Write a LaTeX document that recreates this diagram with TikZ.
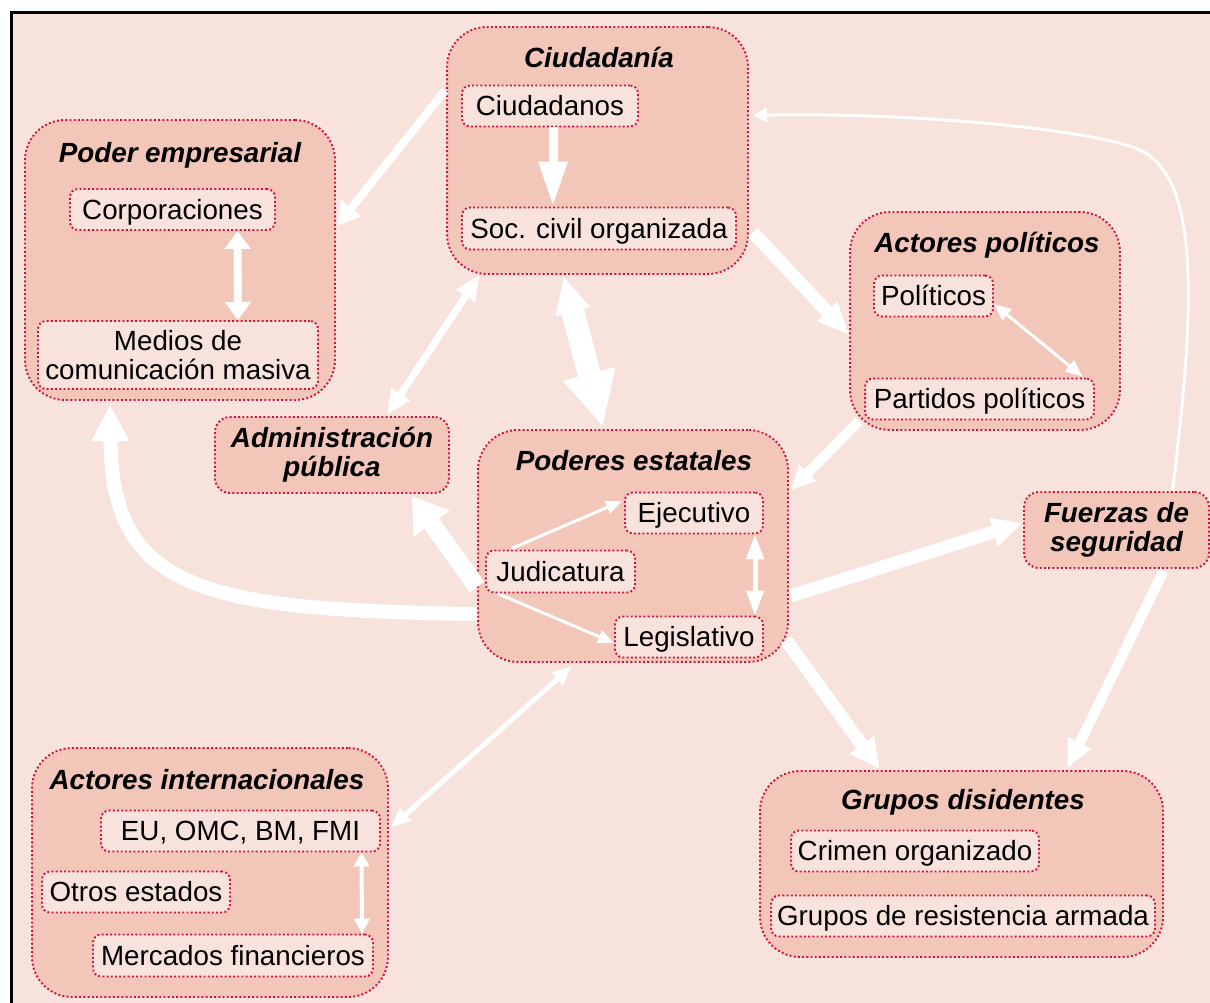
\documentclass[tikz,border=0pt]{standalone}
\usepackage{fontspec}
\setmainfont{Liberation Sans}
\usetikzlibrary{arrows.meta,calc}
\definecolor{bg}{RGB}{247,227,219}
\definecolor{boxc}{RGB}{242,199,186}
\definecolor{dotc}{RGB}{214,16,60}
\newcommand\bodyfnt{\fontsize{15.8}{16.5}\selectfont}
\newcommand\titlefnt{\fontsize{15.8}{16.5}\selectfont\bfseries\itshape}
\tikzset{
  dotb/.style={draw=dotc, line width=1.1pt, dash pattern=on 1.1pt off 1.3pt},
  outerbox/.style={dotb, fill=boxc, rounded corners=0.8cm, inner sep=0pt},
  midbox/.style={dotb, fill=boxc, rounded corners=0.3cm, inner sep=0pt, align=center, font=\titlefnt},
  inbox/.style={dotb, fill=bg, rounded corners=0.16cm, inner sep=0pt, font=\bodyfnt, text height=11.3pt, text depth=0pt},
  inboxml/.style={dotb, fill=bg, rounded corners=0.16cm, inner sep=0pt, font=\bodyfnt, align=center},
  ttl/.style={font=\titlefnt, inner sep=0pt, text height=11.3pt, text depth=0pt},
  warr/.style={draw=white, line width=#1},
}
\begin{document}
\begin{tikzpicture}[x=0.02cm, y=-0.02cm]
\useasboundingbox (0,0) rectangle (1210,1003);
\clip (0,0) rectangle (1210,1003);
\fill[white] (0,0) rectangle (1210,1003);
\fill[bg] (11,12) rectangle (1230,1020);
\draw[black, line width=0.05cm] (11.5,1020) -- (11.5,12.5) -- (1230,12.5);

% outer group boxes
\node[outerbox, minimum width=6.2cm, minimum height=5.6cm] (pe) at (180,260) {};
\node[outerbox, minimum width=6.02cm, minimum height=4.94cm] (ci) at (597.5,150.5) {};
\node[outerbox, minimum width=5.4cm, minimum height=4.36cm] (ap) at (985,321) {};
\node[outerbox, minimum width=6.2cm, minimum height=4.64cm] (pst) at (633,546) {};
\node[outerbox, minimum width=7.12cm, minimum height=4.98cm] (ai) at (210,872.5) {};
\node[outerbox, minimum width=8.06cm, minimum height=3.72cm] (gd) at (961.5,864) {};
\node[midbox, minimum width=4.68cm, minimum height=1.52cm] (adm) at (332,455) {Administración\\pública};
\node[midbox, minimum width=3.7cm, minimum height=1.52cm] (fs) at (1116.5,530) {Fuerzas de\\seguridad};

% titles
\node[ttl] (pet) at (180,153) {Poder empresarial};
\node[ttl] (cit) at (599,58) {Ciudadanía};
\node[ttl] (apt) at (987,243) {Actores políticos};
\node[ttl] (pstt) at (634,461) {Poderes estatales};
\node[ttl] (ait) at (207,780) {Actores internacionales};
\node[ttl] (gdt) at (963,800) {Grupos disidentes};

% inner boxes
\node[inbox, minimum width=4.1cm, minimum height=0.82cm] (corp) at (172.5,209.5) {Corporaciones};
\node[inboxml, minimum width=5.6cm, minimum height=1.36cm] (med) at (178,355) {Medios de\\comunicación masiva};
\node[inbox, minimum width=3.52cm, minimum height=0.82cm] (ciu) at (550,106) {Ciudadanos};
\node[inbox, minimum width=5.48cm, minimum height=0.84cm] (soc) at (599,228.5) {Soc. civil organizada};
\node[inbox, minimum width=2.38cm, minimum height=0.82cm] (pol) at (933.5,296) {Políticos};
\node[inbox, minimum width=4.58cm, minimum height=0.82cm] (par) at (979.5,399) {Partidos políticos};
\node[inbox, minimum width=2.76cm, minimum height=0.82cm] (eje) at (694,513) {Ejecutivo};
\node[inbox, minimum width=2.98cm, minimum height=0.84cm] (jud) at (560.5,571.5) {Judicatura};
\node[inbox, minimum width=2.96cm, minimum height=0.82cm] (leg) at (689,637) {Legislativo};
\node[inbox, minimum width=5.58cm, minimum height=0.82cm] (eu) at (240.5,831) {EU, OMC, BM, FMI};
\node[inbox, minimum width=3.76cm, minimum height=0.82cm] (otr) at (136,892) {Otros estados};
\node[inbox, minimum width=5.6cm, minimum height=0.84cm] (mer) at (233,955.5) {Mercados financieros};
\node[inbox, minimum width=4.96cm, minimum height=0.82cm] (cri) at (915,851) {Crimen organizado};
\node[inbox, minimum width=7.68cm, minimum height=0.82cm] (gru) at (963,916) {Grupos de resistencia armada};

% inner connectors
\draw[warr=0.18cm, -{Triangle[width=0.54cm,length=0.9cm]}] ($(ciu.south)+(3,0)$) -- ($(soc.north)+(-46,0)$);
\draw[warr=0.16cm, {Triangle[width=0.5cm,length=0.36cm]}-{Triangle[width=0.5cm,length=0.36cm]}] ($(corp.south)+(65,0)$) -- ($(med.north)+(60,0)$);
\draw[warr=0.06cm, {Triangle[width=0.28cm,length=0.34cm]}-{Triangle[width=0.28cm,length=0.34cm]}] ($(pol.east)+(0,8)$) -- ($(par.north)+(103,-1)$);
\draw[warr=0.06cm, -{Triangle[width=0.26cm,length=0.32cm]}] ($(jud.north)+(-49,-1)$) -- ($(eje.west)+(-2,-12)$);
\draw[warr=0.06cm, -{Triangle[width=0.26cm,length=0.32cm]}] ($(jud.south)+(-63,0)$) -- ($(leg.west)+(0,6)$);
\draw[warr=0.1cm, {Triangle[width=0.34cm,length=0.5cm]}-{Triangle[width=0.34cm,length=0.5cm]}] ($(eje.south)+(61,0)$) -- ($(leg.north)+(66,0)$);
\draw[warr=0.08cm, {Triangle[width=0.3cm,length=0.28cm]}-{Triangle[width=0.3cm,length=0.3cm]}] ($(eu.south)+(121,0)$) -- ($(mer.north)+(129,0)$);

% outer connectors
\draw[warr=0.16cm, -{Triangle[width=0.5cm,length=0.46cm]}] ($(ci.west)+(-1,-60)$) -- ($(pe.east)+(1,-34)$);
\draw[warr=0.26cm, -{Triangle[width=0.52cm,length=0.64cm]}] ($(ci.east)+(4,82)$) -- ($(ap.west)+(0,14)$);
\draw[warr=0.14cm, {Triangle[width=0.42cm,length=0.5cm]}-{Triangle[width=0.42cm,length=0.5cm]}] ($(ci.south)+(-118,0)$) -- ($(adm.north)+(55,-1)$);
\draw[warr=0.46cm, {Triangle[width=0.66cm,length=0.74cm]}-{Triangle[width=1cm,length=1.1cm]}] ($(ci.south)+(-34,1)$) -- ($(pst.north)+(-30,-2)$);
\draw[warr=0.2cm, -{Triangle[width=0.44cm,length=0.48cm]}] ($(ap.south west)+(10,-10)$) -- ($(pst.east)+(2,-56)$);
\draw[warr=0.28cm, -{Triangle[width=0.7cm,length=0.74cm]}] ($(pst.west)+(0,68)$) .. controls (200,610) and (112,590) .. ($(pe.south)+(-70,3)$);
\draw[warr=0.36cm, -{Triangle[width=0.84cm,length=0.68cm]}] ($(pst.west)+(0,41)$) -- ($(adm.south)+(80,2)$);
\draw[warr=0.26cm, -{Triangle[width=0.56cm,length=0.6cm]}] ($(pst.east)+(2,50)$) -- ($(fs.west)+(-1,-7)$);
\draw[warr=0.26cm, -{Triangle[width=0.56cm,length=0.6cm]}] ($(pst.east)+(-3,94)$) -- ($(gd.north)+(-82,-1)$);
\draw[warr=0.2cm, -{Triangle[width=0.48cm,length=0.56cm]}] ($(fs.south)+(47,2)$) -- ($(gd.north)+(106,-2)$);
\draw[warr=0.06cm, -{Triangle[width=0.28cm,length=0.28cm]}] ($(fs.north)+(56,0)$) .. controls (1192,330) and (1205,180) .. (1140,150) .. controls (1090,128) and (900,112) .. ($(ci.east)+(4,-35)$);
\draw[warr=0.1cm, {Triangle[width=0.32cm,length=0.4cm]}-{Triangle[width=0.32cm,length=0.4cm]}] ($(pst.south)+(-61,3)$) -- ($(ai.east)+(2,-45)$);
\end{tikzpicture}
\end{document}
